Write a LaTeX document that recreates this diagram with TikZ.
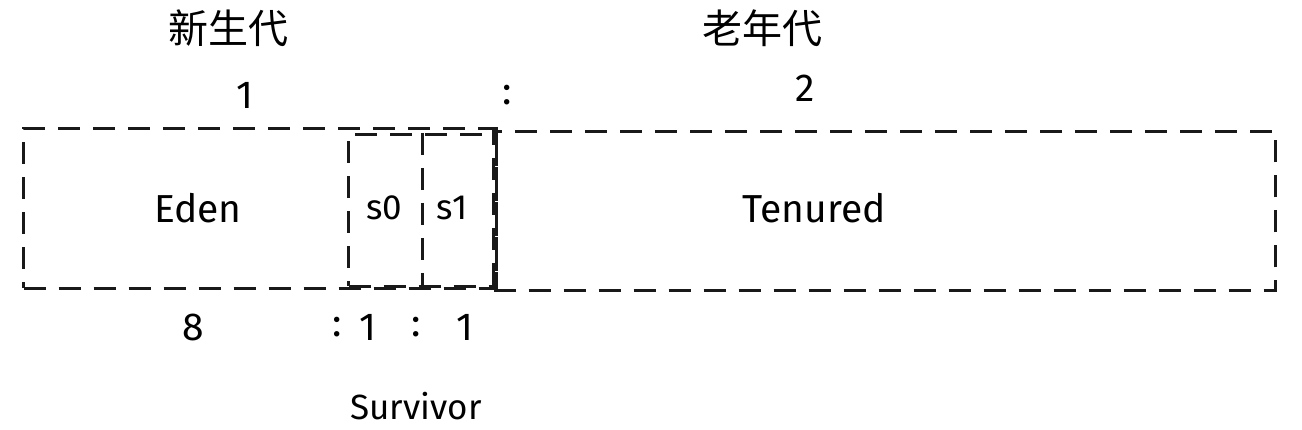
\documentclass[tikz,border=0pt]{standalone}
\usepackage{fontspec}
\setmainfont{Fira Sans}
\newfontfamily\cjk{Noto Sans CJK SC}
\begin{document}
\begin{tikzpicture}[x=1pt,y=-1pt,
  box/.style={draw=black!90,line width=3pt,dash pattern=on 22pt off 13pt},
  lab/.style={inner sep=0pt,font=\fontsize{39}{41}\selectfont},
  small/.style={inner sep=0pt,font=\fontsize{35}{37}\selectfont},
  cjklab/.style={inner sep=0pt,font=\cjk\fontsize{40}{42}\selectfont}]
\useasboundingbox (0,0) rectangle (1302,430);
% boxes
\node[box,minimum width=473pt,minimum height=160pt,anchor=north west,inner sep=0pt] (young) at (22,127) {};
\node[box,minimum width=148pt,minimum height=152pt,anchor=north west,inner sep=0pt] (sbox) at (347,133) {};
\coordinate (divtop) at (422,133);
\coordinate (divbot) at (422,285);
\draw[box] (divtop) -- (divbot);
\node[box,minimum width=782pt,minimum height=159pt,anchor=north west,inner sep=0pt] (tenbox) at (492,130) {};
% titles
\node[cjklab] (xsd) at (228,28) {新生代};
\node[cjklab] (lnd) at (762,28) {老年代};
\node[lab] (one) at (245,95) {1};
\node[lab] (colon) at (507,95) {:};
\node[lab] (two) at (805,88) {2};
% inner labels
\node[lab] (eden) at (198,208) {Eden};
\node[small] (s0) at (384,208) {s0};
\node[small] (s1) at (452,208) {s1};
\node[lab] (ten) at (814,208) {Tenured};
% bottom ratio
\node[lab] (eight) at (193,327) {8};
\node[lab] (c1) at (337,327) {:};
\node[lab] (o1) at (368,327) {1};
\node[lab] (c2) at (416,327) {:};
\node[lab] (o2) at (465,327) {1};
\node[small,anchor=base] (surv) at (416,420) {Survivor};
\end{tikzpicture}
\end{document}
